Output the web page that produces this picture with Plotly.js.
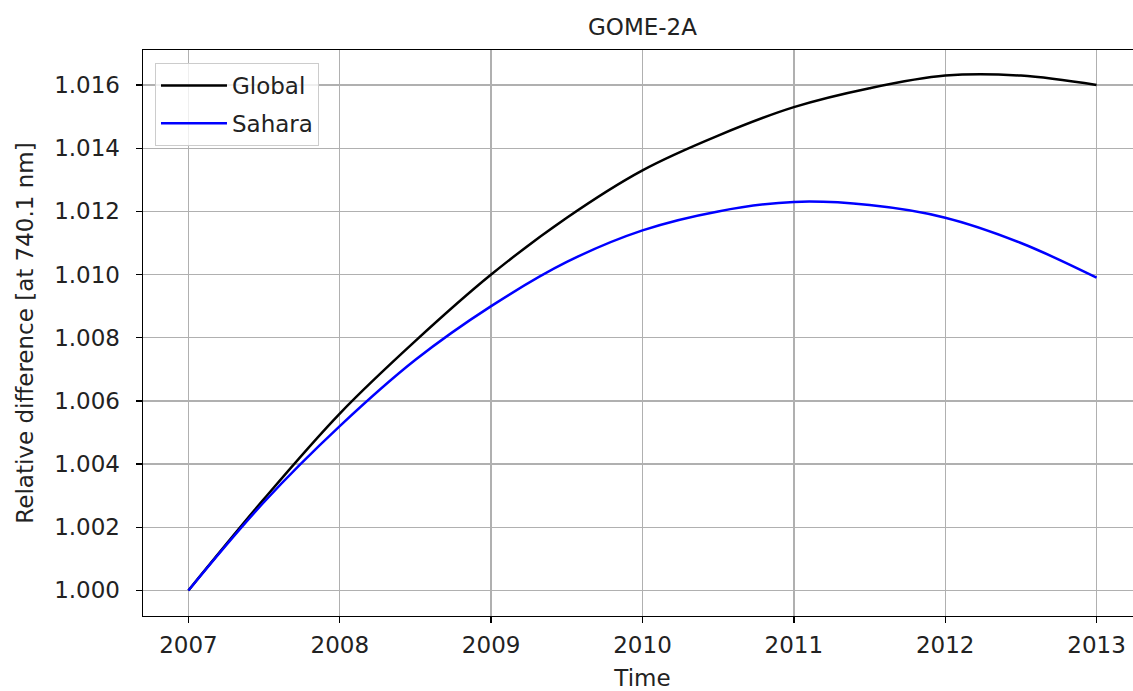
<!DOCTYPE html>
<html>
<head>
<meta charset="utf-8">
<script src="https://cdn.plot.ly/plotly-3.0.1.min.js"></script>
<style>
html,body{margin:0;padding:0;overflow:hidden;background:#fff;}
#chart{width:1142px;height:691px;}
</style>
</head>
<body>
<div id="chart"></div>
<script>
// Data
const years = [2007, 2007.5, 2008, 2008.5, 2009, 2009.5, 2010, 2010.5, 2011, 2011.5, 2012, 2012.5, 2013];
const globalVals = [1.0000, 1.0029, 1.0056, 1.0079, 1.0100, 1.0118, 1.0133, 1.0144, 1.0153, 1.0159, 1.0163, 1.0163, 1.0160];
const saharaVals = [1.0000, 1.0028, 1.0052, 1.0073, 1.0090, 1.0104, 1.0114, 1.0120, 1.0123, 1.0122, 1.0118, 1.0110, 1.0099];
const seriesNames = ["Global", "Sahara"];
const yTicks = [1.000, 1.002, 1.004, 1.006, 1.008, 1.010, 1.012, 1.014, 1.016];
const xTicks = [2007, 2008, 2009, 2010, 2011, 2012, 2013];

const FONT = "DejaVu Sans, sans-serif";
const FS = 23;

const traces = [
  {x: years, y: globalVals, name: seriesNames[0], mode: "lines", legendgroup: "g1",
   line: {color: "#000000", width: 2.5, shape: "spline", smoothing: 1}},
  {x: years, y: saharaVals, name: seriesNames[1], mode: "lines", legendgroup: "g2",
   line: {color: "#0000ff", width: 2.5, shape: "spline", smoothing: 1}}
];

const layout = {
  width: 1142, height: 691,
  margin: {l: 143, r: 0, t: 50, b: 75},
  paper_bgcolor: "#ffffff", plot_bgcolor: "#ffffff",
  font: {family: FONT, size: FS, color: "#222222"},
  title: {text: "GOME-2A", font: {family: FONT, size: FS, color: "#222222"},
          x: 0.5, xref: "paper", xanchor: "center", y: 1, yref: "container", yanchor: "top", pad: {t: 19}},
  showlegend: true,
  legend: {x: 0.012, y: 0.977, xanchor: "left", yanchor: "top",
           bgcolor: "rgba(255,255,255,0.8)", bordercolor: "#cccccc", borderwidth: 1,
           traceorder: "grouped", tracegroupgap: 5,
           font: {family: FONT, size: FS, color: "#222222"}, itemwidth: 66},
  xaxis: {
    range: [2006.7, 2013.3], tickvals: xTicks, ticktext: xTicks.map(String),
    showgrid: true, gridcolor: "#b0b0b0", gridwidth: 1.3,
    showline: true, linecolor: "#000000", linewidth: 1.4, mirror: true,
    ticks: "outside", ticklen: 6, tickwidth: 1.4, tickcolor: "#000000",
    ticklabelstandoff: 2, zeroline: false,
    tickfont: {family: FONT, size: FS, color: "#222222"},
    title: {text: "Time", font: {family: FONT, size: FS, color: "#222222"}, standoff: 15}
  },
  yaxis: {
    range: [0.99919, 1.01711], tickvals: yTicks, ticktext: yTicks.map(v => v.toFixed(3)),
    showgrid: true, gridcolor: "#b0b0b0", gridwidth: 1.3,
    showline: true, linecolor: "#000000", linewidth: 1.4, mirror: true,
    ticks: "outside", ticklen: 6, tickwidth: 1.4, tickcolor: "#000000",
    ticklabelstandoff: 11, zeroline: false,
    tickfont: {family: FONT, size: FS, color: "#222222"},
    title: {text: "Relative difference [at 740.1 nm]", font: {family: FONT, size: FS, color: "#222222"}, standoff: 14}
  }
};

Plotly.newPlot("chart", traces, layout, {displayModeBar: false, staticPlot: true});
</script>
</body>
</html>
